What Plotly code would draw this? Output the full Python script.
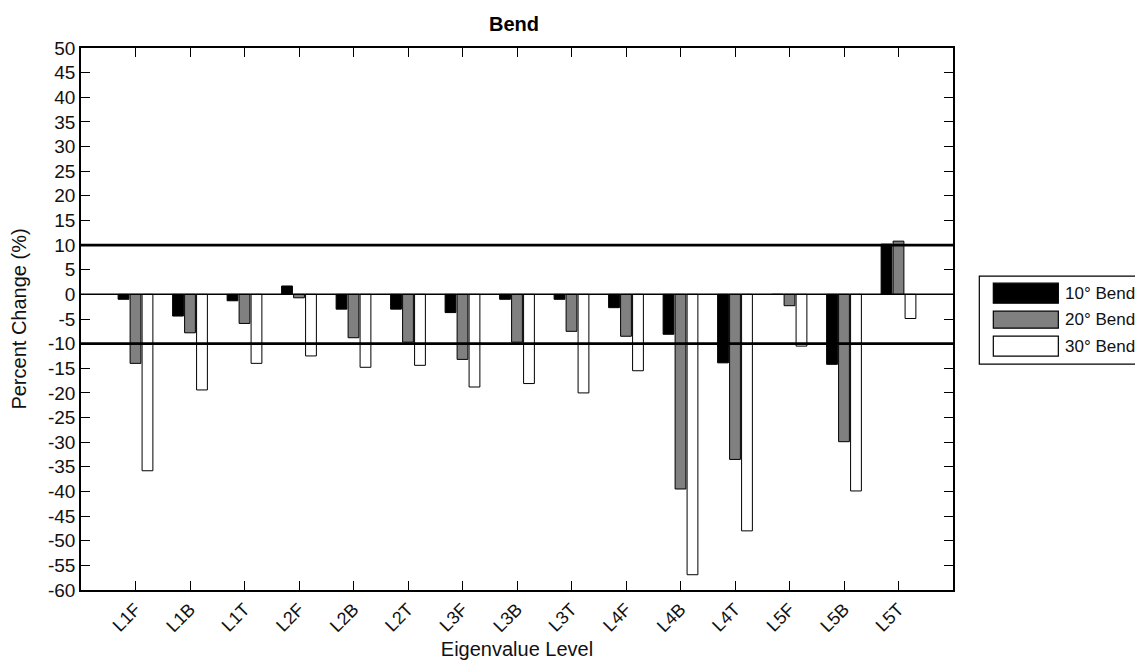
import plotly.graph_objects as go

categories = ["L1F", "L1B", "L1T", "L2F", "L2B", "L2T", "L3F", "L3B", "L3T",
              "L4F", "L4B", "L4T", "L5F", "L5B", "L5T"]
series_names = ["10° Bend", "20° Bend", "30° Bend"]
bend10 = [-1.0, -4.4, -1.3, 1.7, -3.0, -3.0, -3.7, -1.0, -1.0, -2.7, -8.1, -13.9, 0.0, -14.2, 10.2]
bend20 = [-14.0, -7.8, -5.9, -0.7, -8.8, -9.7, -13.2, -9.7, -7.5, -8.5, -39.5, -33.5, -2.3, -29.9, 10.8]
bend30 = [-35.8, -19.4, -14.0, -12.5, -14.8, -14.4, -18.8, -18.1, -20.0, -15.5, -56.9, -48.0, -10.5, -39.9, -4.9]
ref_lines = [10, 0, -10]
y_ticks = list(range(-60, 55, 5))

colors = ["#000000", "#808080", "#ffffff"]
values = [bend10, bend20, bend30]

FONT = "Arial, Liberation Sans, sans-serif"

fig = go.Figure()
for name, vals, col in zip(series_names, values, colors):
    fig.add_trace(go.Bar(
        x=categories, y=vals, name=name,
        marker=dict(color=col, line=dict(color="#000000", width=1)),
        showlegend=False,
    ))

# reference lines at 10, 0, -10
for v in ref_lines:
    fig.add_shape(type="line", xref="x domain", yref="y", x0=0, x1=1, y0=v, y1=v,
                  line=dict(color="#000000", width=1.5 if v == 0 else 2.7), layer="above")

# manual legend (MATLAB style large swatches)
L = dict(x0=979, x1=1145, y0=276, y1=364)
W, H = 1135, 661
pw = 952.7 - 81
ph = 590 - 47.7
def px(x):
    return (x - 81) / pw
def py(y):
    return (590 - y) / ph

fig.add_shape(type="rect", xref="paper", yref="paper",
              x0=px(L["x0"]), x1=px(L["x1"]), y0=py(L["y1"]), y1=py(L["y0"]),
              line=dict(color="#000000", width=1.2), fillcolor="#ffffff", layer="above")
sw_rows = [(283, 303), (311, 328), (336, 356)]
for (t, b), name, col in zip(sw_rows, series_names, colors):
    fig.add_shape(type="rect", xref="paper", yref="paper",
                  x0=px(993), x1=px(1058), y0=py(b), y1=py(t),
                  line=dict(color="#000000", width=1.2), fillcolor=col, layer="above")
    fig.add_annotation(xref="paper", yref="paper", x=px(1063), y=py((t + b) / 2),
                       text=name, showarrow=False, xanchor="left", yanchor="middle",
                       font=dict(family=FONT, size=17, color="#111111"))

fig.update_layout(
    width=W, height=H,
    margin=dict(l=81, r=W - 952.7, t=47.7, b=H - 590, pad=0, autoexpand=False),
    paper_bgcolor="#ffffff", plot_bgcolor="#ffffff",
    barmode="group", bargap=0.34, bargroupgap=0.1,
    title=dict(text="<b>Bend</b>", x=514 / W, y=1 - 24 / H, xref="container", yref="container",
               xanchor="center", yanchor="middle",
               font=dict(family=FONT, size=20, color="#000000")),
    font=dict(family=FONT, size=18, color="#111111"),
    xaxis=dict(
        type="category", range=[-1, 15], automargin=False,
        showline=True, linecolor="#000000", linewidth=1.5, mirror="ticks",
        ticks="inside", ticklen=9, tickcolor="#000000", tickwidth=1.3,
        tickangle=-45, showgrid=False, zeroline=False,
        tickfont=dict(family=FONT, size=18, color="#111111"),
        title=dict(text="Eigenvalue Level", standoff=7,
                   font=dict(family=FONT, size=20, color="#111111")),
    ),
    yaxis=dict(
        range=[-60, 50], tickvals=y_ticks, ticktext=[str(t) for t in y_ticks],
        automargin=False,
        showline=True, linecolor="#000000", linewidth=1.5, mirror="ticks",
        ticks="inside", ticklen=9, tickcolor="#000000", tickwidth=1.3,
        showgrid=False, zeroline=False,
        tickfont=dict(family=FONT, size=19, color="#111111"),
        title=dict(text="Percent Change (%)", standoff=16,
                   font=dict(family=FONT, size=20, color="#111111")),
    ),
)

fig.write_html("out.html")
